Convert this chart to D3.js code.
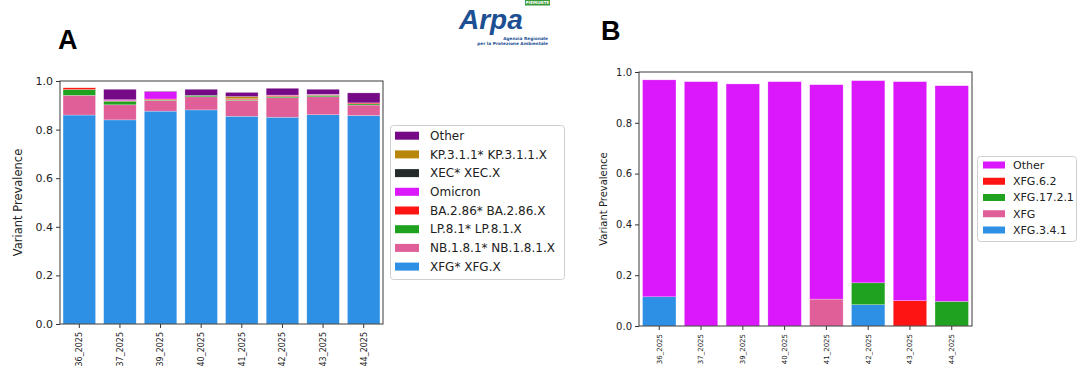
<!DOCTYPE html>
<html><head><meta charset="utf-8">
<script src="https://cdn.jsdelivr.net/npm/d3@7"></script>
<style>body{margin:0;background:#fff;}svg{display:block;font-family:"DejaVu Sans",sans-serif;}</style>
</head><body>
<svg id="c" width="1090" height="381"></svg>
<script>
// ---------- DATA ----------
const weeks = ["36_2025","37_2025","39_2025","40_2025","41_2025","42_2025","43_2025","44_2025"];
const yTicks = [0, 0.2, 0.4, 0.6, 0.8, 1.0];

// Panel A (stack bottom -> top)
const seriesA = ["XFG* XFG.X","NB.1.8.1* NB.1.8.1.X","LP.8.1* LP.8.1.X","BA.2.86* BA.2.86.X","Omicron","XEC* XEC.X","KP.3.1.1* KP.3.1.1.X","Other"];
const colorsA = ["#2e90e4","#e05f99","#1fa21f","#ff1414","#db17fb","#252b2b","#b8860b","#760a86"];
const aXFG     = [0.860, 0.840, 0.876, 0.881, 0.855, 0.851, 0.861, 0.858];
const aNB      = [0.081, 0.062, 0.044, 0.054, 0.065, 0.080, 0.074, 0.043];
const aLP      = [0.024, 0.015, 0.003, 0.006, 0.003, 0.005, 0.006, 0.005];
const aBA      = [0.007, 0.003, 0.003, 0.000, 0.003, 0.005, 0.002, 0.004];
const aOmicron = [0.000, 0.003, 0.030, 0.000, 0.000, 0.001, 0.002, 0.000];
const aXEC     = [0.000, 0.000, 0.000, 0.000, 0.001, 0.000, 0.000, 0.000];
const aKP      = [0.000, 0.000, 0.000, 0.000, 0.009, 0.000, 0.000, 0.000];
const aOther   = [0.000, 0.043, 0.002, 0.025, 0.017, 0.028, 0.021, 0.041];
const valuesA = [aXFG, aNB, aLP, aBA, aOmicron, aXEC, aKP, aOther];

// Panel B (stack bottom -> top)
const seriesB = ["XFG.3.4.1","XFG","XFG.17.2.1","XFG.6.2","Other"];
const colorsB = ["#2e90e4","#e05f99","#1fa21f","#ff1414","#db17fb"];
const bXFG341  = [0.115, 0, 0, 0, 0, 0.084, 0, 0];
const bXFG     = [0, 0, 0, 0, 0.106, 0, 0, 0];
const bXFG1721 = [0, 0, 0, 0, 0, 0.086, 0, 0.097];
const bXFG62   = [0, 0, 0, 0, 0, 0, 0.100, 0];
const bOther   = [0.854, 0.962, 0.953, 0.962, 0.844, 0.796, 0.862, 0.849];
const valuesB = [bXFG341, bXFG, bXFG1721, bXFG62, bOther];

// ---------- DRAW ----------
const svg = d3.select("#c");

function panel(cfg) {
  const g = svg.append("g");
  const keys = cfg.series;
  const rows = weeks.map((w, i) => {
    const r = {week: w};
    keys.forEach((k, j) => r[k] = cfg.values[j][i]);
    return r;
  });
  const stacked = d3.stack().keys(keys)(rows);
  const x = d3.scaleBand().domain(weeks).range([cfg.left, cfg.right])
    .paddingInner(0.2).paddingOuter(cfg.po);
  const y = d3.scaleLinear().domain([0, 1]).range([cfg.bottom, cfg.top]);

  stacked.forEach((s, j) => {
    g.append("g").attr("fill", cfg.colors[j])
      .selectAll("rect").data(s).join("rect")
      .attr("x", d => x(d.data.week))
      .attr("width", x.bandwidth())
      .attr("y", d => y(d[1]))
      .attr("height", d => Math.max(0, y(d[0]) - y(d[1])))
      .attr("stroke", "#fff").attr("stroke-opacity", 0.5).attr("stroke-width", 0.5);
  });

  // y axis
  const ya = g.append("g").attr("transform", `translate(${cfg.left},0)`)
    .call(d3.axisLeft(y).tickValues(yTicks).tickFormat(d3.format(".1f")).tickSizeOuter(0).tickSize(4).tickPadding(3));
  ya.select(".domain").remove();
  ya.selectAll("text").attr("font-size", cfg.yFont).attr("fill", "#222").attr("font-family", "DejaVu Sans");
  ya.selectAll("line").attr("stroke", "#333");

  // x axis
  const xa = g.append("g").attr("transform", `translate(0,${cfg.bottom})`)
    .call(d3.axisBottom(x).tickSizeOuter(0).tickSize(4));
  xa.select(".domain").remove();
  xa.selectAll("line").attr("stroke", "#333");
  xa.selectAll("text").attr("font-size", cfg.xFont).attr("fill", "#222")
    .attr("font-family", "DejaVu Sans")
    .attr("transform", "rotate(-90)")
    .attr("text-anchor", "end").attr("dy", "0.35em")
    .attr("x", -(cfg.xPad)).attr("y", 0);

  // frame
  g.append("rect").attr("x", cfg.left).attr("y", cfg.top)
    .attr("width", cfg.right - cfg.left).attr("height", cfg.bottom - cfg.top)
    .attr("fill", "none").attr("stroke", "#3a3a3a").attr("stroke-width", 1);

  // y label
  g.append("text").attr("transform", `translate(${cfg.ylabX},${(cfg.top + cfg.bottom) / 2}) rotate(-90)`)
    .attr("text-anchor", "middle").attr("dy", "0.35em")
    .attr("font-size", cfg.ylabFont).attr("fill", "#222").text("Variant Prevalence");

  // panel letter
  g.append("text").attr("x", cfg.letterX).attr("y", cfg.letterY)
    .attr("font-family", "Liberation Sans, Arial, sans-serif").attr("font-weight", "bold")
    .attr("font-size", 27).attr("fill", "#000").text(cfg.letter);

  // legend
  const L = cfg.legend;
  const n = keys.length;
  g.append("rect").attr("x", L.x).attr("y", L.y).attr("width", L.w).attr("height", L.h)
    .attr("rx", 3).attr("fill", "#fff").attr("stroke", "#cfcfcf").attr("stroke-width", 1);
  for (let i = 0; i < n; i++) {
    const j = n - 1 - i;
    const cy = L.first + i * L.step;
    g.append("rect").attr("x", L.px).attr("y", cy - L.ph / 2).attr("width", L.pw).attr("height", L.ph)
      .attr("fill", cfg.colors[j]);
    g.append("text").attr("x", L.tx).attr("y", cy).attr("dy", "0.35em")
      .attr("font-size", L.font).attr("fill", "#222").text(keys[j]);
  }
}

panel({
  series: seriesA, colors: colorsA, values: valuesA,
  left: 60, right: 383, top: 81, bottom: 324, po: 0.075,
  yFont: 11, xFont: 8, xPad: 8, ylabX: 18, ylabFont: 11.5,
  letter: "A", letterX: 58, letterY: 49,
  legend: {x: 390.5, y: 125.5, w: 174, h: 154, first: 135.7, step: 18.7,
           px: 395, pw: 24, ph: 8, tx: 430, font: 12}
});

panel({
  series: seriesB, colors: colorsB, values: valuesB,
  left: 639, right: 972, top: 72, bottom: 326, po: 0.085,
  yFont: 10, xFont: 7, xPad: 8, ylabX: 603, ylabFont: 10,
  letter: "B", letterX: 601, letterY: 40,
  legend: {x: 977.5, y: 156.5, w: 99, h: 85, first: 165, step: 16.25,
           px: 983, pw: 22, ph: 7, tx: 1013, font: 11}
});

// ---------- LOGO ----------
const logo = svg.append("g");
logo.append("text").attr("x", 459).attr("y", 29)
  .attr("font-family", "Liberation Sans, Arial, sans-serif").attr("font-weight", "bold")
  .attr("font-style", "italic").attr("font-size", 28).attr("fill", "#1d4f93")
  .text("Arpa");
logo.append("rect").attr("x", 525).attr("y", 0).attr("width", 25).attr("height", 5.5)
  .attr("fill", "#3a9a3a");
logo.append("text").attr("x", 537.5).attr("y", 4.2).attr("text-anchor", "middle")
  .attr("font-size", 4).attr("font-weight", "bold").attr("fill", "#fff").text("PIEMONTE");
logo.append("text").attr("x", 548).attr("y", 39.5).attr("text-anchor", "end")
  .attr("font-size", 4.3).attr("font-weight", "bold").attr("fill", "#1d4f93").text("Agenzia Regionale");
logo.append("text").attr("x", 548).attr("y", 44.5).attr("text-anchor", "end")
  .attr("font-size", 4.3).attr("font-weight", "bold").attr("fill", "#1d4f93").text("per la Protezione Ambientale");
</script>
</body></html>
